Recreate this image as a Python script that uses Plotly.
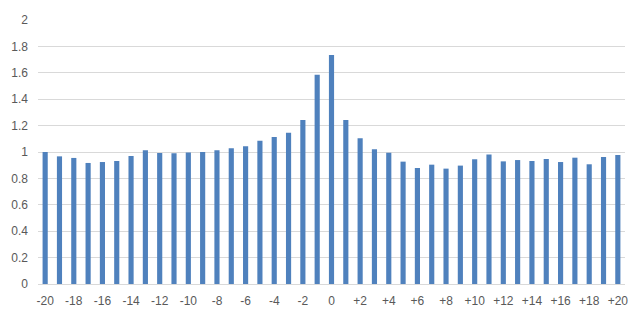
import plotly.graph_objects as go

positions = list(range(-20, 21))
values = [1.00, 0.967, 0.955, 0.917, 0.924, 0.932, 0.970, 1.013, 0.992, 0.990,
          0.997, 1.000, 1.013, 1.028, 1.043, 1.086, 1.114, 1.146, 1.242, 1.586,
          1.735, 1.242, 1.104, 1.020, 0.995, 0.927, 0.879, 0.904, 0.874, 0.897,
          0.945, 0.982, 0.929, 0.939, 0.932, 0.947, 0.924, 0.957, 0.907, 0.962,
          0.977]
tick_vals = list(range(-20, 21, 2))
tick_text = [("+%d" % v) if v > 0 else str(v) for v in tick_vals]
y_ticks = [0, 0.2, 0.4, 0.6, 0.8, 1, 1.2, 1.4, 1.6, 1.8, 2]
y_text = ["0", "0.2", "0.4", "0.6", "0.8", "1", "1.2", "1.4", "1.6", "1.8", "2"]

fig = go.Figure(go.Bar(x=positions, y=values, marker_color="#4f81bd",
                       marker_line_width=0))
fig.update_layout(
    width=637, height=316,
    margin=dict(l=38, r=12, t=20, b=32),
    paper_bgcolor="white", plot_bgcolor="white",
    bargap=0.64,
    showlegend=False,
    font=dict(family="Liberation Sans, Arial, sans-serif", size=12, color="#595959"),
)
fig.update_xaxes(range=[-20.5, 20.5], tickvals=tick_vals, ticktext=tick_text,
                 showgrid=False, zeroline=False, showline=True,
                 linecolor="#d9d9d9", linewidth=1, ticks="", ticklen=0,
                 ticklabelstandoff=6, automargin=False)
fig.update_yaxes(range=[0, 2], tickvals=y_ticks, ticktext=y_text,
                 showgrid=True, gridcolor="#d9d9d9", gridwidth=1,
                 zeroline=False, showline=False, ticks="", ticklabelstandoff=9,
                 automargin=False)
fig.write_html("out.html")
